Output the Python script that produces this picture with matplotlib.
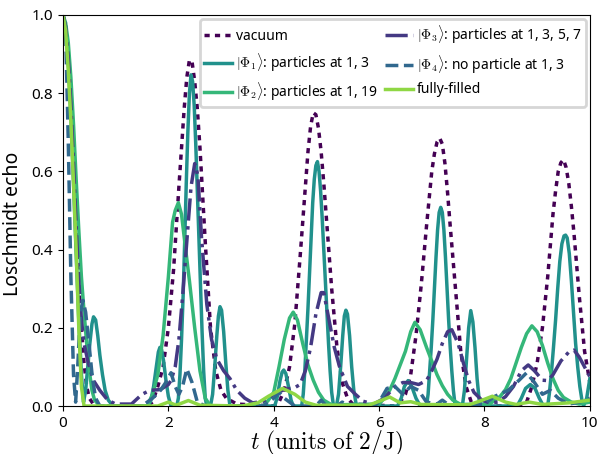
import matplotlib
matplotlib.use("Agg")
import matplotlib.pyplot as plt

plt.rcParams['font.family'] = ['Noto Sans', 'DejaVu Sans']
plt.rcParams['mathtext.fontset'] = 'cm'

# ---------------- data ----------------
vac_t = [0, 0.05, 0.1, 0.15, 0.2, 0.25, 0.3, 0.35, 0.4, 0.45, 0.5, 0.6, 1.6, 1.7, 1.8, 1.9, 2.0, 2.1, 2.2, 2.3, 2.35, 2.4, 2.45, 2.5, 2.55,
         2.6, 2.7, 2.8, 2.9, 3.0, 3.1, 3.3, 4.0, 4.1, 4.2, 4.3, 4.4, 4.5, 4.6, 4.65, 4.7, 4.75, 4.8, 4.85, 4.9, 4.95, 5.0, 5.1, 5.2, 5.3, 5.4, 5.5,
         6.3, 6.4, 6.5, 6.6, 6.7, 6.8, 6.9, 7.0, 7.05, 7.1, 7.15, 7.2, 7.25, 7.3, 7.35, 7.45, 7.55, 7.65, 7.75, 7.9,
         8.7, 8.8, 8.9, 9.0, 9.1, 9.2, 9.3, 9.35, 9.4, 9.45, 9.5, 9.55, 9.6, 9.65, 9.7, 9.8, 9.9, 10.0]
vac_v = [1.0, 0.97, 0.9, 0.78, 0.63, 0.47, 0.32, 0.2, 0.11, 0.05, 0.02, 0.0, 0.0, 0.01, 0.05, 0.1, 0.2, 0.35, 0.56, 0.76, 0.84, 0.885, 0.88, 0.83, 0.76,
         0.66, 0.42, 0.2, 0.09, 0.04, 0.02, 0.005, 0.0, 0.01, 0.04, 0.1, 0.21, 0.38, 0.56, 0.65, 0.715, 0.75, 0.745, 0.71, 0.65, 0.57, 0.48, 0.3, 0.15, 0.06, 0.02, 0.005,
         0.0, 0.01, 0.03, 0.08, 0.18, 0.31, 0.46, 0.6, 0.645, 0.675, 0.685, 0.67, 0.62, 0.545, 0.46, 0.3, 0.14, 0.05, 0.01, 0.0,
         0.0, 0.01, 0.05, 0.11, 0.2, 0.33, 0.49, 0.55, 0.6, 0.622, 0.63, 0.61, 0.57, 0.51, 0.44, 0.28, 0.14, 0.06]

phi1_t = [0, 0.05, 0.1, 0.15, 0.2, 0.25, 0.3, 0.35, 0.39, 0.43, 0.47, 0.51, 0.55, 0.58, 0.62, 0.66, 0.7, 0.75, 0.8, 0.86, 0.95,
          1.62, 1.67, 1.72, 1.77, 1.81, 1.84, 1.87, 1.91, 1.95, 2.0, 2.05,
          2.16, 2.19, 2.22, 2.25, 2.28, 2.31, 2.34, 2.37, 2.40, 2.43, 2.46, 2.49, 2.52, 2.55, 2.58, 2.61, 2.64, 2.67, 2.70, 2.73,
          2.8, 2.84, 2.88, 2.92, 2.95, 2.98, 3.01, 3.05, 3.09, 3.13, 3.17,
          4.02, 4.07, 4.12, 4.16, 4.19, 4.23, 4.28, 4.33, 4.37,
          4.53, 4.56, 4.59, 4.62, 4.65, 4.68, 4.71, 4.74, 4.77, 4.80, 4.83, 4.86, 4.89, 4.92, 4.95, 4.98, 5.01, 5.04, 5.07, 5.10, 5.13, 5.15,
          5.19, 5.23, 5.27, 5.31, 5.34, 5.37, 5.4, 5.44, 5.48, 5.52, 5.57,
          6.35, 6.42, 6.48, 6.55, 6.62, 6.7, 6.78,
          6.9, 6.93, 6.96, 6.99, 7.02, 7.05, 7.08, 7.11, 7.14, 7.17, 7.2, 7.23, 7.26, 7.29, 7.32, 7.35, 7.38, 7.41, 7.44, 7.46,
          7.58, 7.62, 7.66, 7.7, 7.74, 7.78, 7.82, 7.86, 7.9, 7.93,
          8.62, 8.7, 8.78, 8.87, 8.96, 9.04, 9.12,
          9.2, 9.23, 9.27, 9.31, 9.35, 9.39, 9.43, 9.47, 9.51, 9.54, 9.57, 9.61, 9.65, 9.69, 9.73, 9.77, 9.81, 9.85, 9.88, 9.94, 10.0]
phi1_v = [1.0, 0.97, 0.88, 0.74, 0.57, 0.39, 0.22, 0.08, 0.01, 0.04, 0.1, 0.16, 0.21, 0.228, 0.22, 0.18, 0.13, 0.08, 0.04, 0.015, 0.0,
          0.0, 0.015, 0.05, 0.1, 0.138, 0.15, 0.145, 0.115, 0.07, 0.025, 0.0,
          0.0, 0.02, 0.08, 0.17, 0.28, 0.42, 0.57, 0.7, 0.8, 0.847, 0.83, 0.77, 0.67, 0.55, 0.43, 0.31, 0.19, 0.09, 0.02, 0.0,
          0.0, 0.03, 0.1, 0.18, 0.23, 0.254, 0.245, 0.19, 0.11, 0.04, 0.0,
          0.0, 0.025, 0.065, 0.087, 0.092, 0.083, 0.05, 0.015, 0.0,
          0.0, 0.03, 0.09, 0.17, 0.25, 0.34, 0.43, 0.52, 0.58, 0.615, 0.625, 0.6, 0.55, 0.48, 0.4, 0.32, 0.24, 0.16, 0.09, 0.035, 0.005, 0.0,
          0.0, 0.03, 0.1, 0.18, 0.23, 0.245, 0.235, 0.18, 0.1, 0.04, 0.0,
          0.0, 0.02, 0.05, 0.065, 0.05, 0.02, 0.0,
          0.0, 0.03, 0.09, 0.15, 0.22, 0.3, 0.38, 0.45, 0.495, 0.508, 0.495, 0.45, 0.38, 0.3, 0.22, 0.15, 0.09, 0.04, 0.005, 0.0,
          0.0, 0.04, 0.12, 0.2, 0.244, 0.215, 0.15, 0.07, 0.015, 0.0,
          0.0, 0.02, 0.045, 0.055, 0.045, 0.02, 0.0,
          0.0, 0.03, 0.084, 0.15, 0.22, 0.3, 0.37, 0.415, 0.435, 0.437, 0.43, 0.39, 0.32, 0.24, 0.16, 0.1, 0.05, 0.015, 0.0, 0.02, 0.07]

phi2_t = [0, 0.05, 0.1, 0.15, 0.2, 0.25, 0.3, 0.35, 0.4, 0.45, 0.5, 0.55, 0.6, 0.7,
          1.6, 1.7, 1.8, 1.9, 2.0, 2.08, 2.13, 2.19, 2.25, 2.32, 2.4, 2.5, 2.6, 2.7, 2.8,
          3.8, 3.9, 4.0, 4.1, 4.2, 4.3, 4.37, 4.45, 4.55, 4.65, 4.75, 4.85, 4.95, 5.1,
          6.0, 6.1, 6.2, 6.3, 6.4, 6.5, 6.6, 6.68, 6.78, 6.9, 7.0, 7.1, 7.2, 7.3, 7.4, 7.55,
          8.1, 8.2, 8.3, 8.4, 8.5, 8.6, 8.7, 8.8, 8.9, 9.0, 9.1, 9.2, 9.3, 9.4, 9.5, 9.65, 9.8, 10.0]
phi2_v = [1.0, 0.98, 0.93, 0.84, 0.72, 0.58, 0.45, 0.33, 0.24, 0.16, 0.09, 0.04, 0.015, 0.0,
          0.0, 0.03, 0.08, 0.18, 0.33, 0.47, 0.5, 0.52, 0.49, 0.41, 0.32, 0.2, 0.09, 0.02, 0.0,
          0.0, 0.015, 0.035, 0.1, 0.17, 0.225, 0.24, 0.22, 0.16, 0.105, 0.066, 0.035, 0.015, 0.003,
          0.005, 0.02, 0.04, 0.07, 0.105, 0.14, 0.19, 0.214, 0.195, 0.15, 0.115, 0.08, 0.052, 0.03, 0.015, 0.004,
          0.005, 0.015, 0.025, 0.042, 0.07, 0.11, 0.15, 0.185, 0.205, 0.19, 0.155, 0.11, 0.07, 0.04, 0.022, 0.01, 0.005, 0.01]

phi3_t = [0, 0.05, 0.1, 0.15, 0.2, 0.25, 0.3, 0.35, 0.4, 0.48, 0.58, 0.7, 0.85, 1.0, 1.3, 1.5, 1.65, 1.85, 2.0,
          2.05, 2.13, 2.2, 2.27, 2.35, 2.43, 2.5, 2.56, 2.63, 2.73, 2.82, 2.92, 3.05, 3.17, 3.3, 3.45, 3.6,
          3.8, 4.0, 4.2, 4.4, 4.5, 4.6, 4.7, 4.8, 4.9, 4.95, 5.05, 5.15, 5.25, 5.4, 5.55, 5.7, 5.9,
          6.1, 6.3, 6.45, 6.6, 6.75, 6.9, 7.0, 7.1, 7.2, 7.3, 7.38, 7.5, 7.6, 7.7, 7.8, 7.95, 8.1,
          8.25, 8.4, 8.55, 8.7, 8.83, 8.95, 9.1, 9.2, 9.3, 9.45, 9.6, 9.7, 9.8, 9.9, 10.0]
phi3_v = [1.0, 0.97, 0.89, 0.77, 0.62, 0.46, 0.32, 0.22, 0.16, 0.11, 0.065, 0.04, 0.015, 0.005, 0.005, 0.03, 0.04, 0.042, 0.055,
          0.065, 0.1, 0.17, 0.28, 0.42, 0.56, 0.62, 0.59, 0.43, 0.26, 0.17, 0.12, 0.09, 0.07, 0.04, 0.02, 0.008,
          0.012, 0.03, 0.042, 0.047, 0.055, 0.09, 0.15, 0.235, 0.29, 0.29, 0.22, 0.15, 0.1, 0.05, 0.03, 0.012, 0.005,
          0.02, 0.05, 0.06, 0.06, 0.055, 0.065, 0.09, 0.12, 0.16, 0.19, 0.195, 0.16, 0.11, 0.065, 0.035, 0.015, 0.008,
          0.01, 0.024, 0.05, 0.09, 0.105, 0.09, 0.066, 0.065, 0.08, 0.115, 0.138, 0.143, 0.125, 0.1, 0.075]

phi4_t = [0, 0.05, 0.1, 0.15, 0.2, 0.24, 0.28, 0.33, 0.38, 0.43, 0.5, 0.56, 0.62, 0.7,
          1.5, 1.7, 1.85, 1.95, 2.05, 2.13, 2.2, 2.27, 2.35, 2.45, 2.55, 2.7,
          3.8, 4.0, 4.1, 4.2, 4.4, 4.8, 4.9, 5.0, 5.2, 5.3, 5.45, 5.9, 6.0, 6.15, 6.3, 6.45, 6.6, 6.75, 6.9,
          7.1, 7.2, 7.35, 8.0, 8.2, 8.45, 8.65, 8.8, 8.95, 9.1, 9.25, 9.4, 9.6, 9.8, 10.0]
phi4_v = [1.0, 0.96, 0.68, 0.33, 0.08, 0.01, 0.1, 0.24, 0.27, 0.24, 0.15, 0.07, 0.02, 0.0,
          0.0, 0.02, 0.04, 0.06, 0.085, 0.05, 0.03, 0.05, 0.095, 0.06, 0.01, 0.0,
          0.0, 0.02, 0.035, 0.02, 0.0, 0.0, 0.015, 0.0, 0.0, 0.01, 0.0, 0.0, 0.01, 0.045, 0.05, 0.03, 0.05, 0.04, 0.01,
          0.005, 0.015, 0.0, 0.005, 0.025, 0.04, 0.065, 0.085, 0.06, 0.03, 0.04, 0.02, 0.005, 0.01, 0.02]

full_t = [0, 0.05, 0.1, 0.15, 0.2, 0.25, 0.3, 0.35, 0.4, 1.8, 2.0, 2.15, 2.38, 2.6,
          3.4, 3.7, 3.9, 4.17, 4.4, 4.6, 4.8, 5.8, 6.0, 6.2, 6.4, 6.6, 6.8,
          7.7, 7.9, 8.15, 8.4, 8.6, 8.85, 9.1, 9.6, 10.0]
full_v = [1.0, 0.96, 0.86, 0.73, 0.57, 0.4, 0.2, 0.05, 0.0, 0.0, 0.01, 0.002, 0.014, 0.002,
          0.0, 0.008, 0.025, 0.045, 0.03, 0.01, 0.002, 0.002, 0.012, 0.023, 0.008, 0.011, 0.004,
          0.003, 0.012, 0.025, 0.01, 0.004, 0.01, 0.004, 0.008, 0.015]

labels = ['vacuum',
          r'$|\Phi_1\rangle$: particles at 1, 3',
          r'$|\Phi_2\rangle$: particles at 1, 19',
          r'$|\Phi_3\rangle$: particles at 1, 3, 5, 7',
          r'$|\Phi_4\rangle$: no particle at 1, 3',
          'fully-filled']
colors = ['#440154', '#21918c', '#35b779', '#443983', '#31688e', '#8fd744']
styles = [(0, (1.5, 1.5)), '-', '-', '-.', '--', '-']

series = [(vac_t, vac_v), (phi1_t, phi1_v), (phi2_t, phi2_v),
          (phi3_t, phi3_v), (phi4_t, phi4_v), (full_t, full_v)]

fig = plt.figure(figsize=(5.97, 4.54), dpi=100)
ax = fig.add_axes([0.1055, 0.1057, 0.8825, 0.8613])
for (t, v), lab, c, ls in zip(series, labels, colors, styles):
    ax.plot(t, v, linestyle=ls, color=c, lw=2.5, label=lab)

ax.set_xlim(0, 10)
ax.set_ylim(0, 1)
ax.set_xticks([0, 2, 4, 6, 8, 10])
ax.set_yticks([0.0, 0.2, 0.4, 0.6, 0.8, 1.0])
ax.tick_params(labelsize=11)
ax.set_ylabel('Loschmidt echo', fontsize=14)
ax.yaxis.set_label_coords(-0.075, 0.465)
ax.set_xlabel(r'$t\ (\mathrm{units\ of\ }2/\mathrm{J})$', fontsize=17, labelpad=-1)

leg = ax.legend(ncol=2, loc='upper right', fontsize=10, handlelength=2.0,
                columnspacing=0.5, handletextpad=0.3, labelspacing=0.5,
                borderpad=0.3, borderaxespad=0.3, fancybox=True, framealpha=0.8)
leg.get_frame().set_linewidth(2)
leg.get_frame().set_edgecolor('#cccccc')

fig.savefig('out.png', dpi=100)
